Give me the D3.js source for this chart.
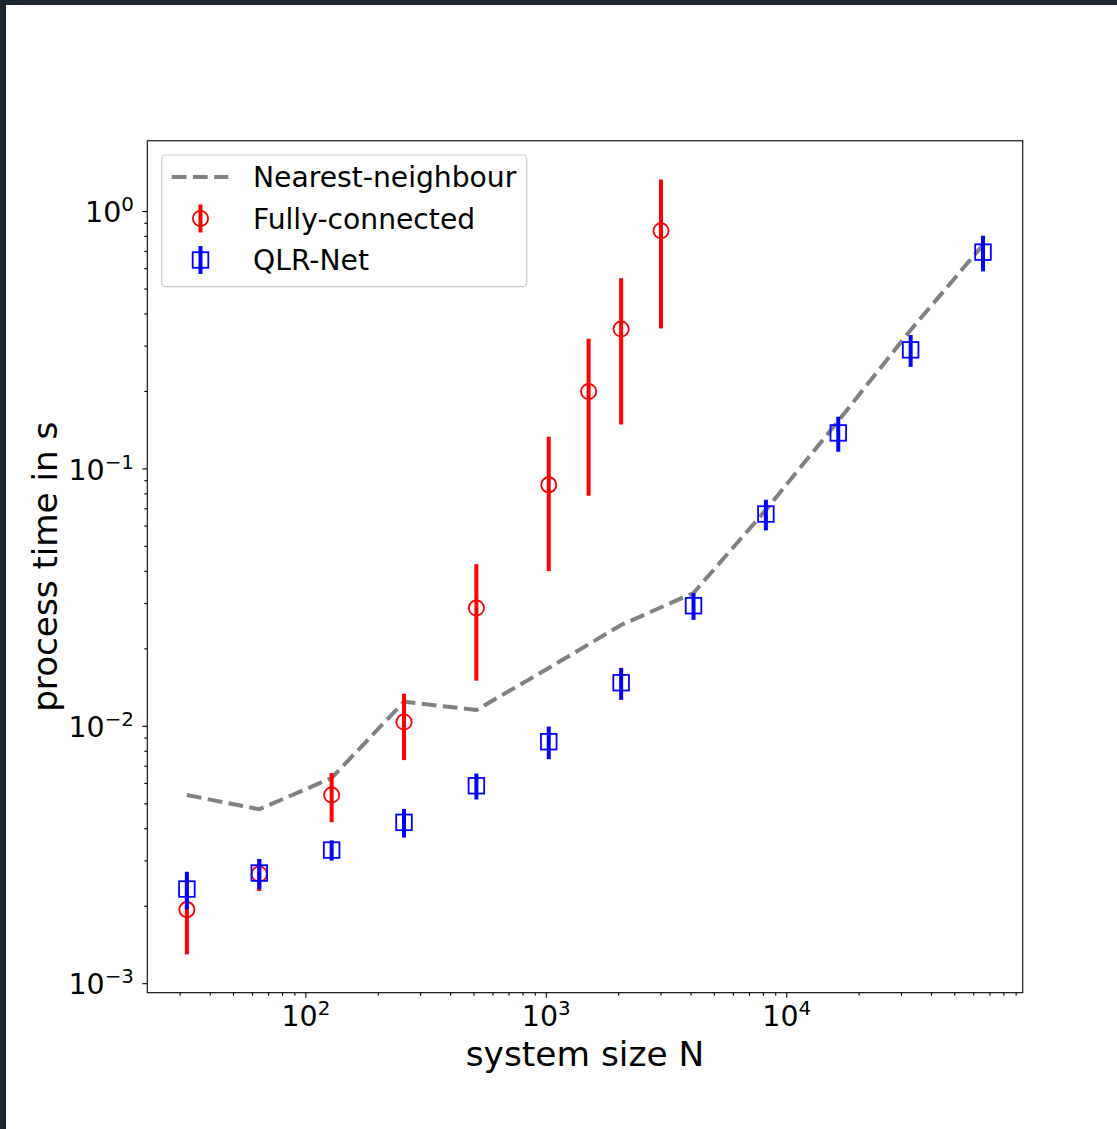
<!DOCTYPE html>
<html>
<head>
<meta charset="utf-8">
<script src="https://cdn.jsdelivr.net/npm/d3@7"></script>
<style>
  html, body { margin: 0; padding: 0; background: #ffffff; }
  svg { display: block; }
  text { font-family: "DejaVu Sans", sans-serif; fill: #000; }
</style>
</head>
<body>
<svg id="chart" width="1117" height="1129"></svg>
<script>
// ---------------- data ----------------
const nnN = [32, 64, 128, 256, 512, 1024, 2048, 4096, 8192, 16384, 32768, 65536];
const nnTime = [0.00541, 0.00476, 0.00630, 0.01246, 0.01157, 0.01685, 0.02475, 0.03296, 0.0693, 0.1537, 0.3464, 0.742];

const fcN = [32, 64, 128, 256, 512, 1024, 1500, 2048, 3000];
const fcTime = [0.00194, 0.00267, 0.00541, 0.01039, 0.02884, 0.0867, 0.1997, 0.3499, 0.8414];
const fcErr = [0.00064, 0.00038, 0.00117, 0.0030, 0.0138, 0.0466, 0.121, 0.201, 0.49];

const qlrN = [32, 64, 128, 256, 512, 1024, 2048, 4096, 8192, 16384, 32768, 65536];
const qlrTime = [0.002332, 0.002691, 0.003305, 0.004235, 0.005875, 0.008713, 0.01477, 0.02942, 0.0668, 0.138, 0.2901, 0.6954];
const qlrErr = [0.00039, 0.00036, 0.0003, 0.00054, 0.00068, 0.00126, 0.0021, 0.0035, 0.0091, 0.0214, 0.041, 0.11];

const xMajorTicks = [100, 1000, 10000];
const xTickExp = ["2", "3", "4"];
const yMajorTicks = [1e-3, 1e-2, 1e-1, 1];
const yTickExp = ["\u22123", "\u22122", "\u22121", "0"];

const legendLabels = ["Nearest-neighbour", "Fully-connected", "QLR-Net"];
const xLabel = "system size N";
const yLabel = "process time in s";

// ---------------- layout ----------------
const L = 147.3, R = 1022.7, T = 140.8, B = 992.7;
const svg = d3.select("#chart");

// dark frame edges of the screenshot
svg.append("rect").attr("x", 0).attr("y", 0).attr("width", 1117).attr("height", 5).attr("fill", "#1f2633");
svg.append("rect").attr("x", 0).attr("y", 0).attr("width", 6).attr("height", 1129).attr("fill", "#1f2633");

const x = d3.scaleLog().domain([Math.pow(10, 1.3405), Math.pow(10, 4.9815)]).range([L, R]);
const y = d3.scaleLog().domain([Math.pow(10, -3.035), Math.pow(10, 0.2748)]).range([B, T]);

const tickFont = 28.5, supFont = 19.9;

// minor ticks
function minorTicks(domain) {
  const out = [];
  const lo = Math.floor(Math.log10(domain[0])), hi = Math.ceil(Math.log10(domain[1]));
  for (let e = lo; e <= hi; e++) {
    for (let m = 2; m <= 9; m++) {
      const v = m * Math.pow(10, e);
      if (v >= domain[0] && v <= domain[1]) out.push(v);
    }
  }
  return out;
}

const gAxes = svg.append("g");

// x ticks
const xMinor = minorTicks(x.domain());
gAxes.selectAll(".xminor").data(xMinor).enter().append("line")
  .attr("x1", d => x(d)).attr("x2", d => x(d)).attr("y1", B).attr("y2", B + 3)
  .attr("stroke", "#000").attr("stroke-width", 1.1);
gAxes.selectAll(".xmajor").data(xMajorTicks).enter().append("line")
  .attr("x1", d => x(d)).attr("x2", d => x(d)).attr("y1", B).attr("y2", B + 5)
  .attr("stroke", "#000").attr("stroke-width", 1.1);
xMajorTicks.forEach((d, i) => {
  const t = gAxes.append("text").attr("x", x(d)).attr("y", 1026)
    .attr("text-anchor", "middle").attr("font-size", tickFont);
  t.append("tspan").text("10");
  t.append("tspan").attr("dy", -11).attr("font-size", supFont).text(xTickExp[i]);
});

// y ticks
const yMinor = minorTicks(y.domain());
gAxes.selectAll(".yminor").data(yMinor).enter().append("line")
  .attr("x1", L - 3).attr("x2", L).attr("y1", d => y(d)).attr("y2", d => y(d))
  .attr("stroke", "#000").attr("stroke-width", 1.1);
gAxes.selectAll(".ymajor").data(yMajorTicks).enter().append("line")
  .attr("x1", L - 5).attr("x2", L).attr("y1", d => y(d)).attr("y2", d => y(d))
  .attr("stroke", "#000").attr("stroke-width", 1.1);
yMajorTicks.forEach((d, i) => {
  const t = gAxes.append("text").attr("x", 134).attr("y", y(d) + 10.6)
    .attr("text-anchor", "end").attr("font-size", tickFont);
  t.append("tspan").text("10");
  t.append("tspan").attr("dy", -11).attr("font-size", supFont).text(yTickExp[i]);
});

// axis labels
svg.append("text").attr("x", (L + R) / 2).attr("y", 1066).attr("text-anchor", "middle")
  .attr("font-size", 34.4).text(xLabel);
svg.append("text").attr("transform", `translate(57,${(T + B) / 2}) rotate(-90)`)
  .attr("text-anchor", "middle").attr("font-size", 34.2).text(yLabel);

// ---------------- plot ----------------
const gPlot = svg.append("g");
const lineGen = d3.line().x(d => x(d[0])).y(d => y(d[1]));
const nnData = nnN.map((n, i) => [n, nnTime[i]]);
gPlot.append("path").attr("d", lineGen(nnData))
  .attr("fill", "none").attr("stroke", "#808080").attr("stroke-width", 4)
  .attr("stroke-dasharray", "14.8,6.4");

// fully connected
const fcData = fcN.map((n, i) => ({ n, t: fcTime[i], e: fcErr[i] }));
gPlot.selectAll(".fcbar").data(fcData).enter().append("line")
  .attr("x1", d => x(d.n)).attr("x2", d => x(d.n))
  .attr("y1", d => y(d.t + d.e)).attr("y2", d => y(Math.max(d.t - d.e, 1e-6)))
  .attr("stroke", "#ff0000").attr("stroke-width", 4);
gPlot.selectAll(".fcpt").data(fcData).enter().append("circle")
  .attr("cx", d => x(d.n)).attr("cy", d => y(d.t)).attr("r", 7.6)
  .attr("fill", "none").attr("stroke", "#ff0000").attr("stroke-width", 1.8);

// QLR-Net
const qData = qlrN.map((n, i) => ({ n, t: qlrTime[i], e: qlrErr[i] }));
gPlot.selectAll(".qbar").data(qData).enter().append("line")
  .attr("x1", d => x(d.n)).attr("x2", d => x(d.n))
  .attr("y1", d => y(d.t + d.e)).attr("y2", d => y(d.t - d.e))
  .attr("stroke", "#0000ff").attr("stroke-width", 4);
gPlot.selectAll(".qpt").data(qData).enter().append("rect")
  .attr("x", d => x(d.n) - 7.8).attr("y", d => y(d.t) - 7.8)
  .attr("width", 15.6).attr("height", 15.6)
  .attr("fill", "none").attr("stroke", "#0000ff").attr("stroke-width", 1.8);

// frame
svg.append("rect").attr("x", L).attr("y", T).attr("width", R - L).attr("height", B - T)
  .attr("fill", "none").attr("stroke", "#000").attr("stroke-width", 1.1);

// ---------------- legend ----------------
const lg = svg.append("g");
lg.append("rect").attr("x", 161.7).attr("y", 155).attr("width", 365).attr("height", 131.7)
  .attr("rx", 4).attr("ry", 4).attr("fill", "rgba(255,255,255,0.8)")
  .attr("stroke", "#cccccc").attr("stroke-width", 1.2);
const rowsY = [177, 218.5, 260];
lg.append("line").attr("x1", 171.7).attr("x2", 228.3).attr("y1", rowsY[0]).attr("y2", rowsY[0])
  .attr("stroke", "#808080").attr("stroke-width", 4).attr("stroke-dasharray", "14.8,6.4");
const hx = 200.5;
lg.append("line").attr("x1", hx).attr("x2", hx).attr("y1", rowsY[1] - 14).attr("y2", rowsY[1] + 14)
  .attr("stroke", "#ff0000").attr("stroke-width", 4);
lg.append("circle").attr("cx", hx).attr("cy", rowsY[1]).attr("r", 7.6)
  .attr("fill", "none").attr("stroke", "#ff0000").attr("stroke-width", 1.8);
lg.append("line").attr("x1", hx).attr("x2", hx).attr("y1", rowsY[2] - 14).attr("y2", rowsY[2] + 14)
  .attr("stroke", "#0000ff").attr("stroke-width", 4);
lg.append("rect").attr("x", hx - 7.8).attr("y", rowsY[2] - 7.8).attr("width", 15.6).attr("height", 15.6)
  .attr("fill", "none").attr("stroke", "#0000ff").attr("stroke-width", 1.8);
legendLabels.forEach((s, i) => {
  lg.append("text").attr("x", 253).attr("y", rowsY[i] + 10).attr("font-size", 28.2).text(s);
});
</script>
</body>
</html>
